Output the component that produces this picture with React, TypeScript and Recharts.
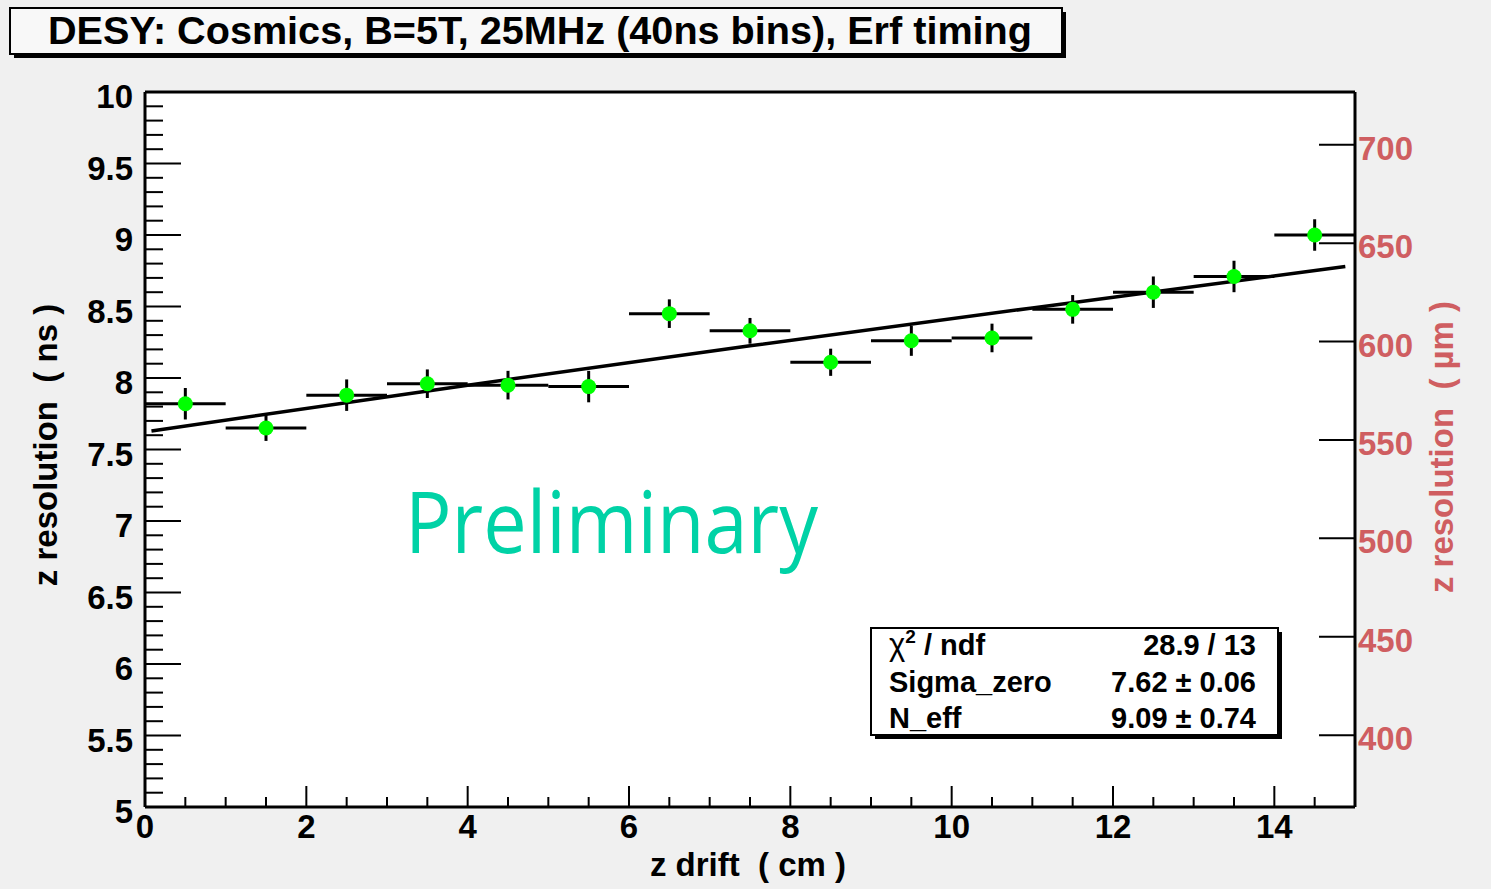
import React from 'react';
import {
  ComposedChart,
  Scatter,
  XAxis,
  YAxis,
  ErrorBar,
  CartesianGrid,
  ReferenceLine,
} from 'recharts';

// z-drift bins (cm) and measured z resolution (ns)
const binCenters = [0.5, 1.5, 2.5, 3.5, 4.5, 5.5, 6.5, 7.5, 8.5, 9.5, 10.5, 11.5, 12.5, 13.5, 14.5];
const zResolution = [7.82, 7.65, 7.88, 7.96, 7.95, 7.94, 8.45, 8.33, 8.11, 8.26, 8.28, 8.48, 8.6, 8.71, 9.0];
const zResolutionErr = [0.11, 0.09, 0.11, 0.1, 0.1, 0.11, 0.1, 0.09, 0.095, 0.105, 0.1, 0.1, 0.11, 0.11, 0.11];
const binHalfWidth = 0.5;

// fitted curve
const fitX = [0.08, 4, 7.5, 11, 14.88];
const fitY = [7.63, 7.95, 8.225, 8.49, 8.78];

// axes
const xMajorTicks = [0, 2, 4, 6, 8, 10, 12, 14];
const leftMajorTicks = [5, 5.5, 6, 6.5, 7, 7.5, 8, 8.5, 9, 9.5, 10];
const rightTicks = [400, 450, 500, 550, 600, 650, 700];
const rightDomain = [363.5, 726.8]; // um, matching 5..10 ns

const title = 'DESY: Cosmics, B=5T, 25MHz (40ns bins), Erf timing';
const xTitle = 'z drift  ( cm )';
const leftTitle = 'z resolution  ( ns )';
const rightTitle = 'z resolution  ( \u00b5m )';

const statsLabels = ['/ ndf', 'Sigma_zero', 'N_eff'];
const statsValues = ['28.9 / 13', '7.62 \u00b1 0.06', '9.09 \u00b1 0.74'];

const points = binCenters.map((x, i) => ({
  x,
  y: zResolution[i],
  ex: binHalfWidth,
  ey: zResolutionErr[i],
}));
const fitPoints = fitX.map((x, i) => ({ x, y: fitY[i] }));

const xTicks = Array.from({ length: 31 }, (_, i) => i * 0.5);
const leftTicks = Array.from({ length: 51 }, (_, i) => Math.round((5 + i * 0.1) * 10) / 10);

const FONT = "'Liberation Sans', Arial, Helvetica, sans-serif";
const RED = '#cf5e61';

const isIn = (v: number, list: number[]) => list.some((m) => Math.abs(m - v) < 1e-6);

const LeftTick = (props: any) => {
  const { x, y, payload } = props;
  const major = isIn(payload.value, leftMajorTicks);
  return (
    <g>
      <line x1={x} x2={x + (major ? 36 : 18)} y1={y} y2={y} stroke="#000" strokeWidth={2} />
      {major && (
        <text x={x - 12} y={y + 16} textAnchor="end" fontFamily={FONT} fontWeight="bold" fontSize={33} fill="#000">
          {String(payload.value)}
        </text>
      )}
    </g>
  );
};

const RightTick = (props: any) => {
  const { x, y, payload } = props;
  return (
    <g>
      <line x1={x - 36} x2={x} y1={y} y2={y} stroke="#000" strokeWidth={2} />
      <text x={x + 3} y={y + 15} textAnchor="start" fontFamily={FONT} fontWeight="bold" fontSize={33} fill={RED}>
        {String(payload.value)}
      </text>
    </g>
  );
};

const BottomTick = (props: any) => {
  const { x, y, payload } = props;
  const major = isIn(payload.value, xMajorTicks);
  return (
    <g>
      <line x1={x} x2={x} y1={y} y2={y - (major ? 21 : 10)} stroke="#000" strokeWidth={2} />
      {major && (
        <text x={x} y={y + 31} textAnchor="middle" fontFamily={FONT} fontWeight="bold" fontSize={33} fill="#000">
          {String(payload.value)}
        </text>
      )}
    </g>
  );
};

const Dot = (props: any) => <circle cx={props.cx} cy={props.cy} r={7.5} fill="#00ff00" />;
const NoDot = () => <g />;

export default function App() {
  return (
    <div style={{ position: 'absolute', left: 0, top: 0, width: 1491, height: 889, background: '#f0f0f0' }}>
      <ComposedChart width={1491} height={889} margin={{ top: 92, right: 76, bottom: 52, left: 85 }}>
        <CartesianGrid fill="#ffffff" horizontal={false} vertical={false} yAxisId="left" />
        <XAxis
          dataKey="x"
          type="number"
          domain={[0, 15]}
          ticks={xTicks}
          interval={0}
          height={30}
          tickSize={0}
          tickMargin={0}
          tickLine={false}
          axisLine={{ stroke: '#000', strokeWidth: 3 }}
          tick={BottomTick}
        />
        <YAxis
          yAxisId="left"
          type="number"
          domain={[5, 10]}
          ticks={leftTicks}
          interval={0}
          width={60}
          tickSize={0}
          tickMargin={0}
          tickLine={false}
          axisLine={{ stroke: '#000', strokeWidth: 3 }}
          tick={LeftTick}
        />
        <YAxis
          yAxisId="right"
          orientation="right"
          type="number"
          domain={rightDomain}
          allowDataOverflow
          ticks={rightTicks}
          interval={0}
          width={60}
          tickSize={0}
          tickMargin={0}
          tickLine={false}
          axisLine={{ stroke: '#000', strokeWidth: 3 }}
          tick={RightTick}
        />
        <ReferenceLine yAxisId="left" y={10} stroke="#000" strokeWidth={3} />
        <Scatter
          yAxisId="left"
          data={fitPoints}
          dataKey="y"
          line={{ stroke: '#000', strokeWidth: 3.5 }}
          shape={NoDot}
          isAnimationActive={false}
        />
        <Scatter yAxisId="left" data={points} dataKey="y" shape={Dot} isAnimationActive={false}>
          <ErrorBar dataKey="ex" direction="x" width={0} stroke="#000" strokeWidth={3} isAnimationActive={false} />
          <ErrorBar dataKey="ey" direction="y" width={0} stroke="#000" strokeWidth={3} isAnimationActive={false} />
        </Scatter>
      </ComposedChart>

      <svg
        width={1491}
        height={889}
        style={{ position: 'absolute', left: 0, top: 0, pointerEvents: 'none', whiteSpace: 'pre' }}
      >
        {/* title box */}
        <rect x={14} y={12} width={1052} height={46} fill="#000" />
        <rect x={10} y={8} width={1052} height={46} fill="#f8f8f8" stroke="#000" strokeWidth={2} />
        <text x={540} y={44} textAnchor="middle" fontFamily={FONT} fontWeight="bold" fontSize={39} textLength={984} lengthAdjust="spacingAndGlyphs">
          {title}
        </text>

        {/* axis titles */}
        <text x={748} y={876} textAnchor="middle" fontFamily={FONT} fontWeight="bold" fontSize={33} xmlSpace="preserve">
          {xTitle}
        </text>
        <text transform="translate(57,445) rotate(-90)" textAnchor="middle" fontFamily={FONT} fontWeight="bold" fontSize={33} xmlSpace="preserve">
          {leftTitle}
        </text>
        <text transform="translate(1453,447) rotate(-90)" textAnchor="middle" fontFamily={FONT} fontWeight="bold" fontSize={33} fill={RED} xmlSpace="preserve">
          {rightTitle}
        </text>

        {/* watermark */}
        <text x={405} y={553} fontFamily="'Comic Sans MS', 'Open Sans', sans-serif" fontSize={86} fill="#00d2a6" textLength={413} lengthAdjust="spacingAndGlyphs">
          Preliminary
        </text>

        {/* fit statistics box */}
        <rect x={875} y={632} width={407} height={107} fill="#000" />
        <rect x={871} y={628} width={407} height={107} fill="#fff" stroke="#000" strokeWidth={2} />
        {statsLabels.map((lab, i) => (
          <text key={lab} x={889} y={655 + i * 36.5} fontFamily={FONT} fontWeight="bold" fontSize={29}>
            {i === 0 && (
              <>
                <tspan fontWeight="normal" fontSize={31}>{'\u03c7'}</tspan>
                <tspan fontSize={19} dy={-12}>2</tspan>
                <tspan dy={12}> </tspan>
              </>
            )}
            {lab}
          </text>
        ))}
        {statsValues.map((val, i) => (
          <text key={val} x={1256} y={655 + i * 36.5} textAnchor="end" fontFamily={FONT} fontWeight="bold" fontSize={29}>
            {val}
          </text>
        ))}
      </svg>
    </div>
  );
}
